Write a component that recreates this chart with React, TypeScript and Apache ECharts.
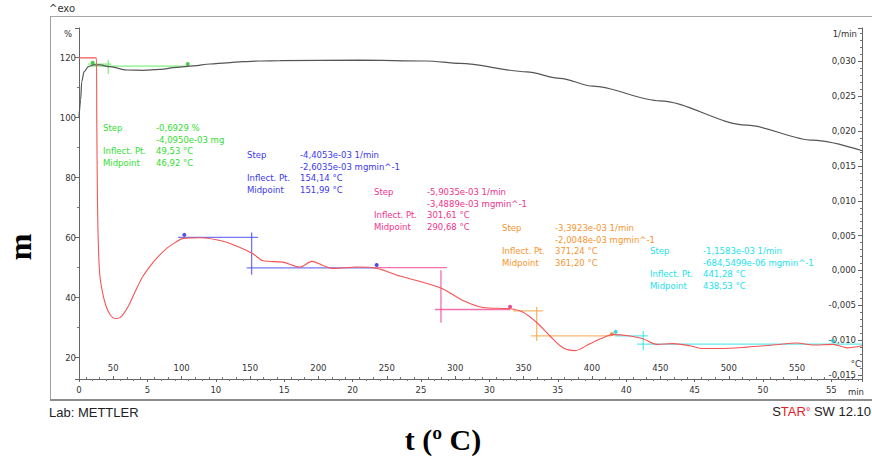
import { useEffect, useRef } from 'react';
import * as echarts from 'echarts';

// ---- TG curve (left axis, %) ----
const tgTime = [0, 0.12, 0.2, 0.37, 0.68, 1.05, 1.54, 2.27, 3.49, 4.7, 5.92, 7.14, 8.36, 9.58, 10.8, 11.99, 13.23, 14.69, 20.54, 25.42, 27.85, 32.73, 35.16, 37.57, 42.47, 48.81, 53.65, 57.24];
const tgPercent = [100.0, 105.9, 112.0, 115.3, 117.0, 117.6, 117.6, 117.0, 115.9, 115.8, 116.1, 116.8, 117.3, 117.9, 118.3, 118.7, 118.9, 119.0, 119.2, 118.9, 118.1, 115.3, 113.1, 110.5, 105.6, 97.5, 92.5, 89.0];

// ---- DTG curve (right axis, 1/min) ----
const dtgTime = [0, 1.27, 1.3, 1.35, 1.43, 1.54, 1.83, 2.12, 2.49, 2.78, 3.14, 3.58, 3.95, 4.31, 4.68, 5.19, 5.7, 6.43, 7.02, 7.6, 8.85, 10.53, 11.77, 12.72, 13.45, 14.91, 16.15, 17.03, 17.76, 18.57, 20.32, 21.78, 23.46, 25.15, 26.54, 28.07, 29.53, 31.51, 32.46, 33.48, 34.43, 35.38, 36.26, 37.35, 38.6, 39.04, 40.28, 41.23, 42.25, 43.42, 44.66, 45.61, 46.86, 48.83, 50.73, 52.49, 53.65, 55.12, 56.14, 57.24];
const dtgRate = [0.0305, 0.0305, 0.0216, 0.01, 0.0028, -0.001, -0.0041, -0.0058, -0.0068, -0.0069, -0.0065, -0.0052, -0.0037, -0.0022, -0.0008, 0.0006, 0.0018, 0.0032, 0.004, 0.0046, 0.0047, 0.0042, 0.0033, 0.0024, 0.0014, 0.0012, 0.0005, 0.0013, 0.0008, 0.0003, 0.0005, 0.0003, -0.0008, -0.0017, -0.0026, -0.0043, -0.0053, -0.0055, -0.006, -0.0075, -0.0094, -0.0111, -0.0115, -0.0105, -0.0094, -0.0092, -0.0094, -0.0098, -0.0106, -0.0105, -0.0108, -0.0112, -0.0112, -0.011, -0.0107, -0.0104, -0.0107, -0.0106, -0.0111, -0.0108];

// ---- axis ranges ----
const timeRange = [0, 57.24];
const tempRange = [25, 597.4];
const percentRange = [12.9, 129.9];
const rateRange = [-0.01557, 0.03479];

// ---- step evaluations: segments [t1, v1, t2, v2], dots [t, v] ----
const greenSegs = [[0.64, 117.89, 2.34, 117.89], [0.88, 117.22, 8.04, 117.22], [2.14, 119.23, 2.14, 114.55]];
const greenDots = [[1.0, 118.33], [7.95, 117.89]];
const blueSegs = [[7.24, 0.00476, 13.08, 0.00476], [12.62, 0.00544, 12.62, -0.00061], [12.26, 0.00036, 21.76, 0.00036]];
const blueDots = [[7.7, 0.00511], [21.76, 0.00079]];
const pinkSegs = [[21.78, 0.0004, 26.9, 0.0004], [26.46, 0.00002, 26.46, -0.00751], [26.02, -0.0056, 31.51, -0.0056]];
const pinkDots = [[31.51, -0.00521]];
const orangeSegs = [[31.73, -0.00579, 33.92, -0.00579], [33.46, -0.00521, 33.46, -0.01011], [33.04, -0.00939, 38.9, -0.00939]];
const orangeDots = [[38.96, -0.0091]];
const cyanSegs = [[39.18, -0.00939, 41.59, -0.00939], [41.25, -0.00867, 41.25, -0.01144], [40.79, -0.01058, 57.24, -0.01058]];
const cyanDots = [[39.23, -0.00881], [55.12, -0.01011]];

// ---- annotation texts ----
const stepLabels = ['Step', '', 'Inflect. Pt.', 'Midpoint'];
const greenValues = ['-0,6929 %', '-4,0950e-03 mg', '49,53 °C', '46,92 °C'];
const blueValues = ['-4,4053e-03 1/min', '-2,6035e-03 mgmin^-1', '154,14 °C', '151,99 °C'];
const pinkValues = ['-5,9035e-03 1/min', '-3,4889e-03 mgmin^-1', '301,61 °C', '290,68 °C'];
const orangeValues = ['-3,3923e-03 1/min', '-2,0048e-03 mgmin^-1', '371,24 °C', '361,20 °C'];
const cyanValues = ['-1,1583e-03 1/min', '-684,5499e-06 mgmin^-1', '441,28 °C', '438,53 °C'];

const SMALL = '"DejaVu Sans", Verdana, sans-serif';

function zip(a: number[], b: number[]) {
  return a.map((v, i) => [v, b[i]]);
}

export default function App() {
  const ref = useRef<HTMLDivElement>(null);

  useEffect(() => {
    if (!ref.current) return;
    const chart = echarts.init(ref.current, undefined, { renderer: 'svg' });

    const segSeries = (segs: number[][], yIdx: number, color: string) =>
      segs.map((s) => ({
        type: 'line',
        xAxisIndex: 0,
        yAxisIndex: yIdx,
        data: [[s[0], s[1]], [s[2], s[3]]],
        symbol: 'none',
        silent: true,
        lineStyle: { color, width: 1.3, opacity: 0.75 },
        z: 3,
      }));
    const dotSeries = (dots: number[][], yIdx: number, color: string) => ({
      type: 'scatter',
      xAxisIndex: 0,
      yAxisIndex: yIdx,
      data: dots,
      symbolSize: 4,
      silent: true,
      itemStyle: { color },
      z: 4,
    });

    const blocks: [string[], string, number, number][] = [
      [greenValues, '#33dd33', 103, 128],
      [blueValues, '#3a3aee', 247, 155],
      [pinkValues, '#f0338c', 374, 192],
      [orangeValues, '#f7952f', 502, 228],
      [cyanValues, '#22e2ec', 650, 251],
    ];
    const textEls: any[] = [];
    blocks.forEach(([vals, color, x, y]) => {
      stepLabels.forEach((lab, i) => {
        const yy = y + i * 11.7;
        if (lab) {
          textEls.push({
            type: 'text', x, y: yy, z: 10,
            style: { text: lab, fill: color, fontSize: 8.5, fontFamily: SMALL, align: 'left', verticalAlign: 'middle' },
          });
        }
        textEls.push({
          type: 'text', x: x + 53, y: yy, z: 10,
          style: { text: vals[i], fill: color, fontSize: 8.5, fontFamily: SMALL, align: 'left', verticalAlign: 'middle' },
        });
      });
    });

    const isMult = (v: number, step: number) => Math.abs(v / step - Math.round(v / step)) < 1e-6;

    const option: any = {
      animation: false,
      backgroundColor: '#ffffff',
      grid: { left: 79, right: 10, top: 28, bottom: 82, containLabel: false },
      xAxis: [
        {
          type: 'value',
          min: timeRange[0],
          max: timeRange[1],
          interval: 5,
          position: 'bottom',
          axisLine: { show: true, onZero: false, lineStyle: { color: '#666', width: 1 } },
          axisTick: { show: true, length: 3, lineStyle: { color: '#666' } },
          minorTick: { show: true, splitNumber: 5, length: 2, lineStyle: { color: '#777' } },
          axisLabel: {
            fontSize: 8.5, fontFamily: SMALL, color: '#333', margin: 6,
            formatter: (v: number) => (isMult(v, 5) ? String(v) : ''),
          },
          splitLine: { show: false },
        },
        {
          type: 'value',
          min: tempRange[0],
          max: tempRange[1],
          splitNumber: 12,
          position: 'bottom',
          axisLine: { show: false, onZero: false },
          axisTick: { show: true, inside: true, length: 3, lineStyle: { color: '#666' } },
          minorTick: { show: true, splitNumber: 5, length: 2, lineStyle: { color: '#777' } },
          axisLabel: {
            inside: true, fontSize: 8.5, fontFamily: SMALL, color: '#333', margin: 7,
            formatter: (v: number) => (isMult(v, 50) ? String(v) : ''),
          },
          splitLine: { show: false },
        },
      ],
      yAxis: [
        {
          type: 'value',
          min: percentRange[0],
          max: percentRange[1],
          splitNumber: 6,
          position: 'left',
          axisLine: { show: true, onZero: false, lineStyle: { color: '#666' } },
          axisTick: { show: true, length: 4, lineStyle: { color: '#666' } },
          minorTick: { show: true, splitNumber: 2, length: 2, lineStyle: { color: '#777' } },
          axisLabel: {
            fontSize: 8.5, fontFamily: SMALL, color: '#333', margin: 3,
            formatter: (v: number) => (isMult(v, 20) ? String(v) : ''),
          },
          splitLine: { show: false },
        },
        {
          type: 'value',
          min: rateRange[0],
          max: rateRange[1],
          splitNumber: 10,
          position: 'right',
          axisLine: { show: true, onZero: false, lineStyle: { color: '#666' } },
          axisTick: { show: true, inside: true, length: 4, lineStyle: { color: '#666' } },
          minorTick: { show: true, splitNumber: 5, length: 2, lineStyle: { color: '#777' } },
          axisLabel: {
            inside: true, fontSize: 8.5, fontFamily: SMALL, color: '#333', margin: 6,
            formatter: (v: number) => (isMult(v, 0.005) ? v.toFixed(3).replace('.', ',').replace('-0,000', '0,000') : ''),
          },
          splitLine: { show: false },
        },
      ],
      series: [
        {
          type: 'line',
          name: 'TG',
          xAxisIndex: 0,
          yAxisIndex: 0,
          data: zip(tgTime, tgPercent),
          symbol: 'none',
          smooth: 0.3,
          smoothMonotone: 'x',
          lineStyle: { color: '#555555', width: 1.2 },
          z: 5,
        },
        {
          type: 'line',
          name: 'DTG',
          xAxisIndex: 0,
          yAxisIndex: 1,
          data: zip(dtgTime, dtgRate),
          symbol: 'none',
          smooth: 0.3,
          lineStyle: { color: '#f55454', width: 1.1 },
          z: 5,
        },
        ...segSeries(greenSegs, 0, '#55ee55'),
        dotSeries(greenDots, 0, '#22bb22'),
        ...segSeries(blueSegs, 1, '#4a4af0'),
        dotSeries(blueDots, 1, '#2222dd'),
        ...segSeries(pinkSegs, 1, '#f0408f'),
        dotSeries(pinkDots, 1, '#e0207a'),
        ...segSeries(orangeSegs, 1, '#f7a040'),
        dotSeries(orangeDots, 1, '#f08020'),
        ...segSeries(cyanSegs, 1, '#30e0ea'),
        dotSeries(cyanDots, 1, '#10c8d8'),
      ],
      graphic: [
        { type: 'line', shape: { x1: 50, y1: 16.5, x2: 872, y2: 16.5 }, style: { stroke: '#a8a8a8', lineWidth: 1 } },
        { type: 'line', shape: { x1: 50.5, y1: 16, x2: 50.5, y2: 400 }, style: { stroke: '#a0a0a0', lineWidth: 1 } },
        { type: 'line', shape: { x1: 50, y1: 400, x2: 872, y2: 400 }, style: { stroke: '#8c8c8c', lineWidth: 2 } },
        { type: 'text', x: 49, y: 8, style: { text: '^exo', fill: '#333', fontSize: 10, fontFamily: SMALL, align: 'left', verticalAlign: 'middle' } },
        { type: 'text', x: 72, y: 34, style: { text: '%', fill: '#333', fontSize: 8.5, fontFamily: SMALL, align: 'right', verticalAlign: 'middle' } },
        { type: 'text', x: 857, y: 34, style: { text: '1/min', fill: '#333', fontSize: 8.5, fontFamily: SMALL, align: 'right', verticalAlign: 'middle' } },
        { type: 'text', x: 861, y: 364, style: { text: '°C', fill: '#333', fontSize: 8.5, fontFamily: SMALL, align: 'right', verticalAlign: 'middle' } },
        { type: 'text', x: 864, y: 392, style: { text: 'min', fill: '#333', fontSize: 8.5, fontFamily: SMALL, align: 'right', verticalAlign: 'middle' } },
        { type: 'text', x: 49, y: 412, style: { text: 'Lab: METTLER', fill: '#222', fontSize: 13, fontFamily: '"Liberation Sans", Arial, sans-serif', align: 'left', verticalAlign: 'middle' } },
        {
          type: 'text', x: 871, y: 411,
          style: {
            text: '{k|S}{r|TAR}{d|°}{k| SW 12.10}',
            align: 'right', verticalAlign: 'middle',
            fontSize: 13, fontFamily: '"Liberation Sans", Arial, sans-serif', fill: '#222',
            rich: {
              k: { fill: '#222', color: '#222', fontSize: 13, fontFamily: '"Liberation Sans", Arial, sans-serif' },
              r: { fill: '#e8202a', color: '#e8202a', fontSize: 13, fontFamily: '"Liberation Sans", Arial, sans-serif' },
              d: { fill: '#e8202a', color: '#e8202a', fontSize: 11, fontFamily: '"Liberation Sans", Arial, sans-serif' },
            },
          },
        },
        {
          type: 'text', x: 20, y: 247, rotation: Math.PI / 2,
          style: { text: 'm', fill: '#000', fontSize: 32, fontWeight: 'bold', fontFamily: '"Liberation Serif", "Times New Roman", serif', align: 'center', verticalAlign: 'middle' },
        },
        {
          type: 'text', x: 443, y: 439,
          style: { text: 't (º C)', fill: '#000', fontSize: 30, fontWeight: 'bold', fontFamily: '"Liberation Serif", "Times New Roman", serif', align: 'center', verticalAlign: 'middle' },
        },
        ...textEls,
      ],
    };

    chart.setOption(option);
    return () => chart.dispose();
  }, []);

  return <div ref={ref} style={{ position: 'absolute', left: 0, top: 0, width: 872, height: 461, background: '#fff' }} />;
}
